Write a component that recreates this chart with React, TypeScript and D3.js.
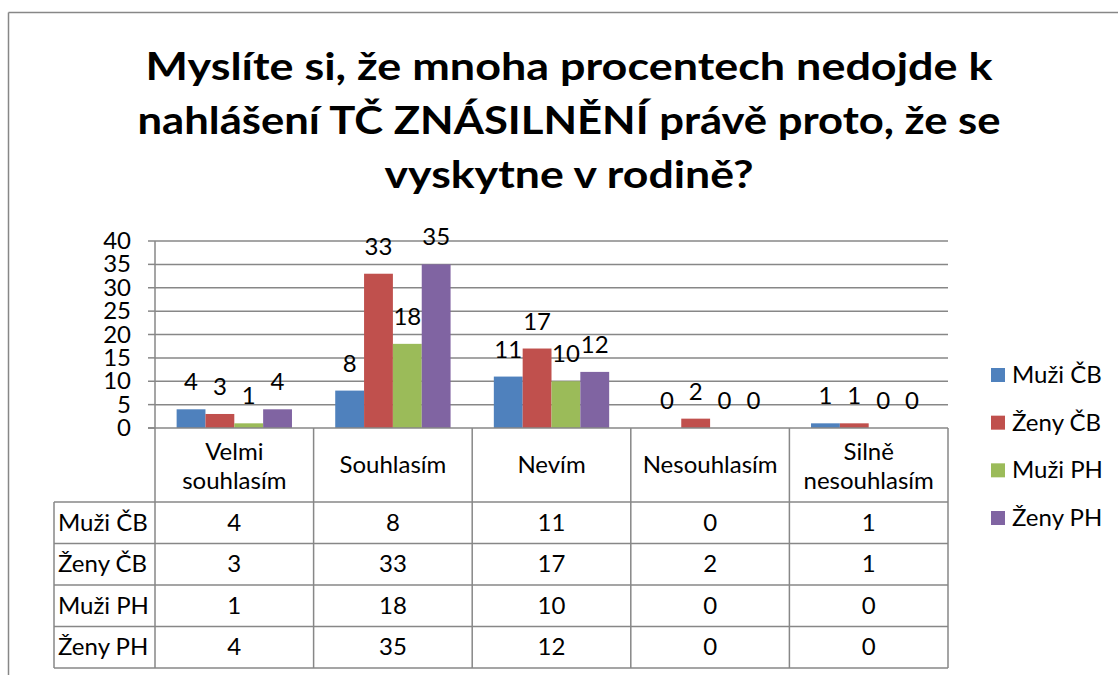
import React from "react";
import * as d3 from "d3";

const titleLines = [
  "Myslíte si, že mnoha procentech nedojde k",
  "nahlášení TČ ZNÁSILNĚNÍ právě proto, že se",
  "vyskytne v rodině?",
];
const categories = ["Velmi souhlasím", "Souhlasím", "Nevím", "Nesouhlasím", "Silně nesouhlasím"];
const categoryLines = [["Velmi", "souhlasím"], ["Souhlasím"], ["Nevím"], ["Nesouhlasím"], ["Silně", "nesouhlasím"]];
const seriesNames = ["Muži ČB", "Ženy ČB", "Muži PH", "Ženy PH"];
const seriesColors = ["#4F81BD", "#C0504D", "#9BBB59", "#8064A2"];
const muziCB = [4, 8, 11, 0, 1];
const zenyCB = [3, 33, 17, 2, 1];
const muziPH = [1, 18, 10, 0, 0];
const zenyPH = [4, 35, 12, 0, 0];
const seriesValues = [muziCB, zenyCB, muziPH, zenyPH];
const yTicks = [0, 5, 10, 15, 20, 25, 30, 35, 40];

const FONT = "Lato, 'Open Sans', sans-serif";
const GRID = "#878787";
const FS = 24;

export default function App() {
  const left = 155, right = 948, zeroY = 428, topY = 241;
  const x = d3.scaleBand<string>().domain(categories).range([left, right]).paddingInner(0).paddingOuter(0);
  const xs = d3.scaleBand<string>().domain(seriesNames).range([0, x.bandwidth()]).paddingInner(0).paddingOuter(0.75);
  const y = d3.scaleLinear().domain([0, 40]).range([zeroY, topY]);

  const tableLeft = 54;
  const headerBottom = 502;
  const tableBottom = 668;
  const rowH = (tableBottom - headerBottom) / seriesNames.length;
  const rowY = (i: number) => headerBottom + i * rowH;

  const legendX = 991;
  const legendY = d3.scalePoint<string>().domain(seriesNames).range([375, 518]);

  const titleWidths = [847, 863, 369];
  const titleCx = 569;
  const titleBase = [80, 134, 188];

  return (
    <svg width={1118} height={675} style={{ position: "absolute", left: 0, top: 0 }} fontFamily={FONT}>
      <rect x={0} y={0} width={1118} height={675} fill="#fff" />
      {/* outer frame */}
      <line x1={8.5} y1={12.5} x2={1118} y2={12.5} stroke={GRID} strokeWidth={1.5} />
      <line x1={8.5} y1={12.5} x2={8.5} y2={675} stroke={GRID} strokeWidth={1.5} />

      {/* title */}
      {titleLines.map((t, i) => (
        <text key={i} x={titleCx} y={titleBase[i]} textAnchor="middle" fontWeight={700} fontSize={38}
          textLength={titleWidths[i]} lengthAdjust="spacingAndGlyphs" fill="#000">{t}</text>
      ))}

      {/* gridlines & ticks */}
      {yTicks.map((v) => (
        <g key={v}>
          {v > 0 && <line x1={left} x2={right} y1={y(v)} y2={y(v)} stroke={GRID} strokeWidth={1.5} />}
          <line x1={148} x2={left} y1={y(v)} y2={y(v)} stroke={GRID} strokeWidth={1.5} />
          <text x={131} y={y(v) + 8} textAnchor="end" fontSize={FS} fill="#000">{v}</text>
        </g>
      ))}

      {/* bars */}
      {seriesValues.map((vals, si) =>
        vals.map((v, ci) => {
          const bx = (x(categories[ci]) as number) + (xs(seriesNames[si]) as number);
          return (
            <g key={`${si}-${ci}`}>
              <rect x={bx} y={y(v)} width={xs.bandwidth()} height={zeroY - y(v)} fill={seriesColors[si]} />
              <text x={bx + xs.bandwidth() / 2} y={y(v) - 19} textAnchor="middle" fontSize={FS} fill="#000">{v}</text>
            </g>
          );
        })
      )}

      {/* axis / table lines */}
      <line x1={148} x2={right} y1={zeroY} y2={zeroY} stroke={GRID} strokeWidth={1.5} />
      <line x1={left} x2={left} y1={topY} y2={tableBottom} stroke={GRID} strokeWidth={1.5} />
      {categories.map((c) => (
        <line key={c} x1={(x(c) as number) + x.bandwidth()} x2={(x(c) as number) + x.bandwidth()} y1={zeroY} y2={tableBottom} stroke={GRID} strokeWidth={1.5} />
      ))}
      <line x1={tableLeft} x2={tableLeft} y1={headerBottom} y2={tableBottom} stroke={GRID} strokeWidth={1.5} />
      {d3.range(seriesNames.length + 1).map((i) => (
        <line key={i} x1={tableLeft} x2={right} y1={rowY(i)} y2={rowY(i)} stroke={GRID} strokeWidth={1.5} />
      ))}

      {/* category headers */}
      {categories.map((c, ci) => {
        const lines = categoryLines[ci];
        const cx = (x(c) as number) + x.bandwidth() / 2;
        const base = lines.length === 1 ? [473] : [460, 489];
        return lines.map((l, li) => (
          <text key={`${c}-${li}`} x={cx} y={base[li]} textAnchor="middle" fontSize={FS} fill="#000">{l}</text>
        ));
      })}

      {/* table rows */}
      {seriesNames.map((s, si) => (
        <g key={s}>
          <text x={58} y={rowY(si) + rowH / 2 + 8} fontSize={FS} fill="#000">{s}</text>
          {seriesValues[si].map((v, ci) => (
            <text key={ci} x={(x(categories[ci]) as number) + x.bandwidth() / 2} y={rowY(si) + rowH / 2 + 8}
              textAnchor="middle" fontSize={FS} fill="#000">{v}</text>
          ))}
        </g>
      ))}

      {/* legend */}
      {seriesNames.map((s, si) => (
        <g key={s}>
          <rect x={legendX} y={(legendY(s) as number) - 7} width={14} height={14} fill={seriesColors[si]} />
          <text x={1012} y={(legendY(s) as number) + 8} fontSize={FS} fill="#000">{s}</text>
        </g>
      ))}
    </svg>
  );
}
